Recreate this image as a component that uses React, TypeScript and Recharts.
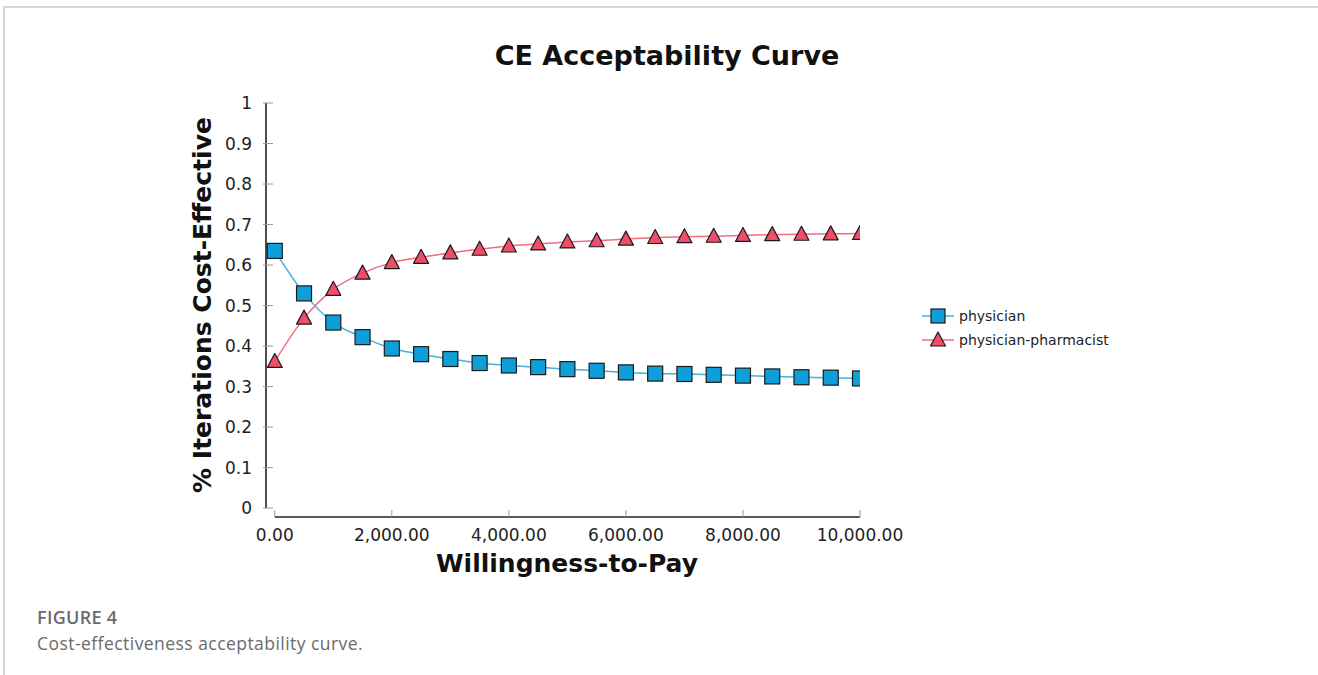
import React from 'react';
import { LineChart, Line, XAxis, YAxis, Legend, ReferenceLine, Label } from 'recharts';

// willingness-to-pay steps (x axis)
const wtp = [0, 500, 1000, 1500, 2000, 2500, 3000, 3500, 4000, 4500, 5000, 5500, 6000, 6500, 7000, 7500, 8000, 8500, 9000, 9500, 10000];

// share of iterations cost-effective
const physician = [0.635, 0.53, 0.458, 0.422, 0.394, 0.38, 0.368, 0.358, 0.352, 0.348, 0.343, 0.339, 0.335, 0.332, 0.331, 0.329, 0.327, 0.325, 0.323, 0.322, 0.32];
const physicianPharmacist = [0.362, 0.469, 0.54, 0.58, 0.606, 0.619, 0.63, 0.639, 0.647, 0.652, 0.657, 0.66, 0.664, 0.668, 0.67, 0.671, 0.673, 0.675, 0.676, 0.677, 0.678];

const xTicks = [0, 2000, 4000, 6000, 8000, 10000];
const yTicks = [0, 0.1, 0.2, 0.3, 0.4, 0.5, 0.6, 0.7, 0.8, 0.9, 1];

const X_MIN = -150;
const Y_MIN = -0.022;

const BLUE_FILL = '#0f9fd8';
const BLUE_LINE = '#45b0dc';
const PINK_FILL = '#f04d68';
const PINK_LINE = '#f36b7f';
const OUTLINE = '#1a1a1a';
const FONT = '"DejaVu Sans", Verdana, sans-serif';

const data = wtp.map((w, i) => ({
  wtp: w,
  physician: physician[i],
  pharmacist: physicianPharmacist[i],
}));

const fmtX = (v: number) =>
  v.toLocaleString('en-US', { minimumFractionDigits: 2, maximumFractionDigits: 2 });

const SquareDot = (props: any) => {
  const { cx, cy, index } = props;
  if (cx == null || cy == null) return <g key={`s-${index}`} />;
  return <rect key={`s-${index}`} x={cx - 7.5} y={cy - 7.5} width={15} height={15} fill={BLUE_FILL} stroke={OUTLINE} strokeWidth={1.2} />;
};

const TriangleDot = (props: any) => {
  const { cx, cy, index } = props;
  if (cx == null || cy == null) return <g key={`t-${index}`} />;
  const pts = `${cx},${cy - 8} ${cx + 7.5},${cy + 6} ${cx - 7.5},${cy + 6}`;
  return <polygon key={`t-${index}`} points={pts} fill={PINK_FILL} stroke={OUTLINE} strokeWidth={1.2} strokeLinejoin="round" />;
};

const XTick = (props: any) => {
  const { x, y, payload } = props;
  return (
    <g>
      <line x1={x} x2={x} y1={y - 7} y2={y} stroke="#999" strokeWidth={1} />
      <text x={x} y={y + 24} textAnchor="middle" fontSize={17} fontFamily={FONT} fill="#222">
        {fmtX(payload.value)}
      </text>
    </g>
  );
};

const YTick = (props: any) => {
  const { x, y, payload } = props;
  return (
    <g>
      <line x1={x - 3} x2={x + 7} y1={y} y2={y} stroke="#999" strokeWidth={1} />
      <text x={x - 14} y={y} dy="0.36em" textAnchor="end" fontSize={17} fontFamily={FONT} fill="#222">
        {String(payload.value)}
      </text>
    </g>
  );
};

const LegendContent = () => {
  const rows = [
    { name: 'physician', line: BLUE_LINE, shape: 'square' },
    { name: 'physician-pharmacist', line: PINK_LINE, shape: 'triangle' },
  ];
  return (
    <svg width={220} height={60}>
      {rows.map((r, i) => {
        const cy = 11 + i * 24;
        return (
          <g key={r.name}>
            <line x1={2} x2={34} y1={cy} y2={cy} stroke={r.line} strokeWidth={1.5} />
            {r.shape === 'square' ? (
              <rect x={11} y={cy - 7} width={14} height={14} fill={BLUE_FILL} stroke={OUTLINE} strokeWidth={1.2} />
            ) : (
              <polygon points={`18,${cy - 8} 25.5,${cy + 6} 10.5,${cy + 6}`} fill={PINK_FILL} stroke={OUTLINE} strokeWidth={1.2} strokeLinejoin="round" />
            )}
            <text x={39} y={cy} dy="0.36em" fontSize={14} fontFamily={FONT} fill="#222">
              {r.name}
            </text>
          </g>
        );
      })}
    </svg>
  );
};

export default function App() {
  return (
    <div style={{ position: 'relative', width: 1318, height: 675, background: '#fff', overflow: 'hidden' }}>
      <style>{'body{margin:0;}'}</style>
      <div style={{ position: 'absolute', left: 3, top: 6, right: 0, bottom: 0, borderTop: '2px solid #d6d6d6', borderLeft: '2px solid #d6d6d6' }} />
      <div
        style={{
          position: 'absolute', left: 0, width: 1334, top: 40, textAlign: 'center',
          fontFamily: FONT, fontWeight: 'bold', fontSize: 27, color: '#111',
        }}
      >
        CE Acceptability Curve
      </div>
      <div style={{ position: 'absolute', left: 0, top: 0 }}>
        <LineChart width={1318} height={675} data={data} margin={{ top: 103, right: 458, bottom: 118, left: 206 }}>
          <XAxis
            dataKey="wtp"
            type="number"
            domain={[X_MIN, 10000]}
            ticks={xTicks}
            allowDataOverflow
            axisLine={false}
            tickLine={false}
            tickSize={0}
            tickMargin={0}
            height={40}
            tick={<XTick />}
          >
            <Label
              content={() => (
                <text x={567} y={572} textAnchor="middle" fontSize={25} fontWeight="bold" fontFamily={FONT} fill="#111">
                  Willingness-to-Pay
                </text>
              )}
            />
          </XAxis>
          <YAxis
            type="number"
            domain={[Y_MIN, 1]}
            ticks={yTicks}
            allowDataOverflow
            axisLine={false}
            tickLine={false}
            tickSize={0}
            tickMargin={0}
            width={60}
            tick={<YTick />}
          >
            <Label
              content={() => (
                <text
                  x={211}
                  y={305}
                  transform="rotate(-90 211 305)"
                  textAnchor="middle"
                  fontSize={25}
                  fontWeight="bold"
                  fontFamily={FONT}
                  fill="#111"
                >
                  % Iterations Cost-Effective
                </text>
              )}
            />
          </YAxis>
          <ReferenceLine segment={[{ x: X_MIN, y: 0 }, { x: X_MIN, y: 1 }]} stroke="#222" strokeWidth={1.6} />
          <ReferenceLine segment={[{ x: 0, y: Y_MIN }, { x: 10000, y: Y_MIN }]} stroke="#222" strokeWidth={1.6} />
          <Line
            type="monotone"
            dataKey="physician"
            name="physician"
            stroke={BLUE_LINE}
            strokeWidth={1.5}
            dot={<SquareDot />}
            activeDot={false}
            isAnimationActive={false}
          />
          <Line
            type="monotone"
            dataKey="pharmacist"
            name="physician-pharmacist"
            stroke={PINK_LINE}
            strokeWidth={1.5}
            dot={<TriangleDot />}
            activeDot={false}
            isAnimationActive={false}
          />
          <Legend
            layout="vertical"
            align="center"
            verticalAlign="middle"
            content={<LegendContent />}
            wrapperStyle={{ left: 920, top: 305, width: 220, height: 60 }}
          />
        </LineChart>
      </div>
      <div style={{ position: 'absolute', left: 37, top: 605, fontFamily: '"Open Sans", sans-serif', color: '#6b6b6b' }}>
        <div style={{ fontSize: 18, fontWeight: 600, letterSpacing: 0.3 }}>FIGURE 4</div>
        <div style={{ fontSize: 17.5, letterSpacing: 0.45, marginTop: 2 }}>Cost-effectiveness acceptability curve.</div>
      </div>
    </div>
  );
}
